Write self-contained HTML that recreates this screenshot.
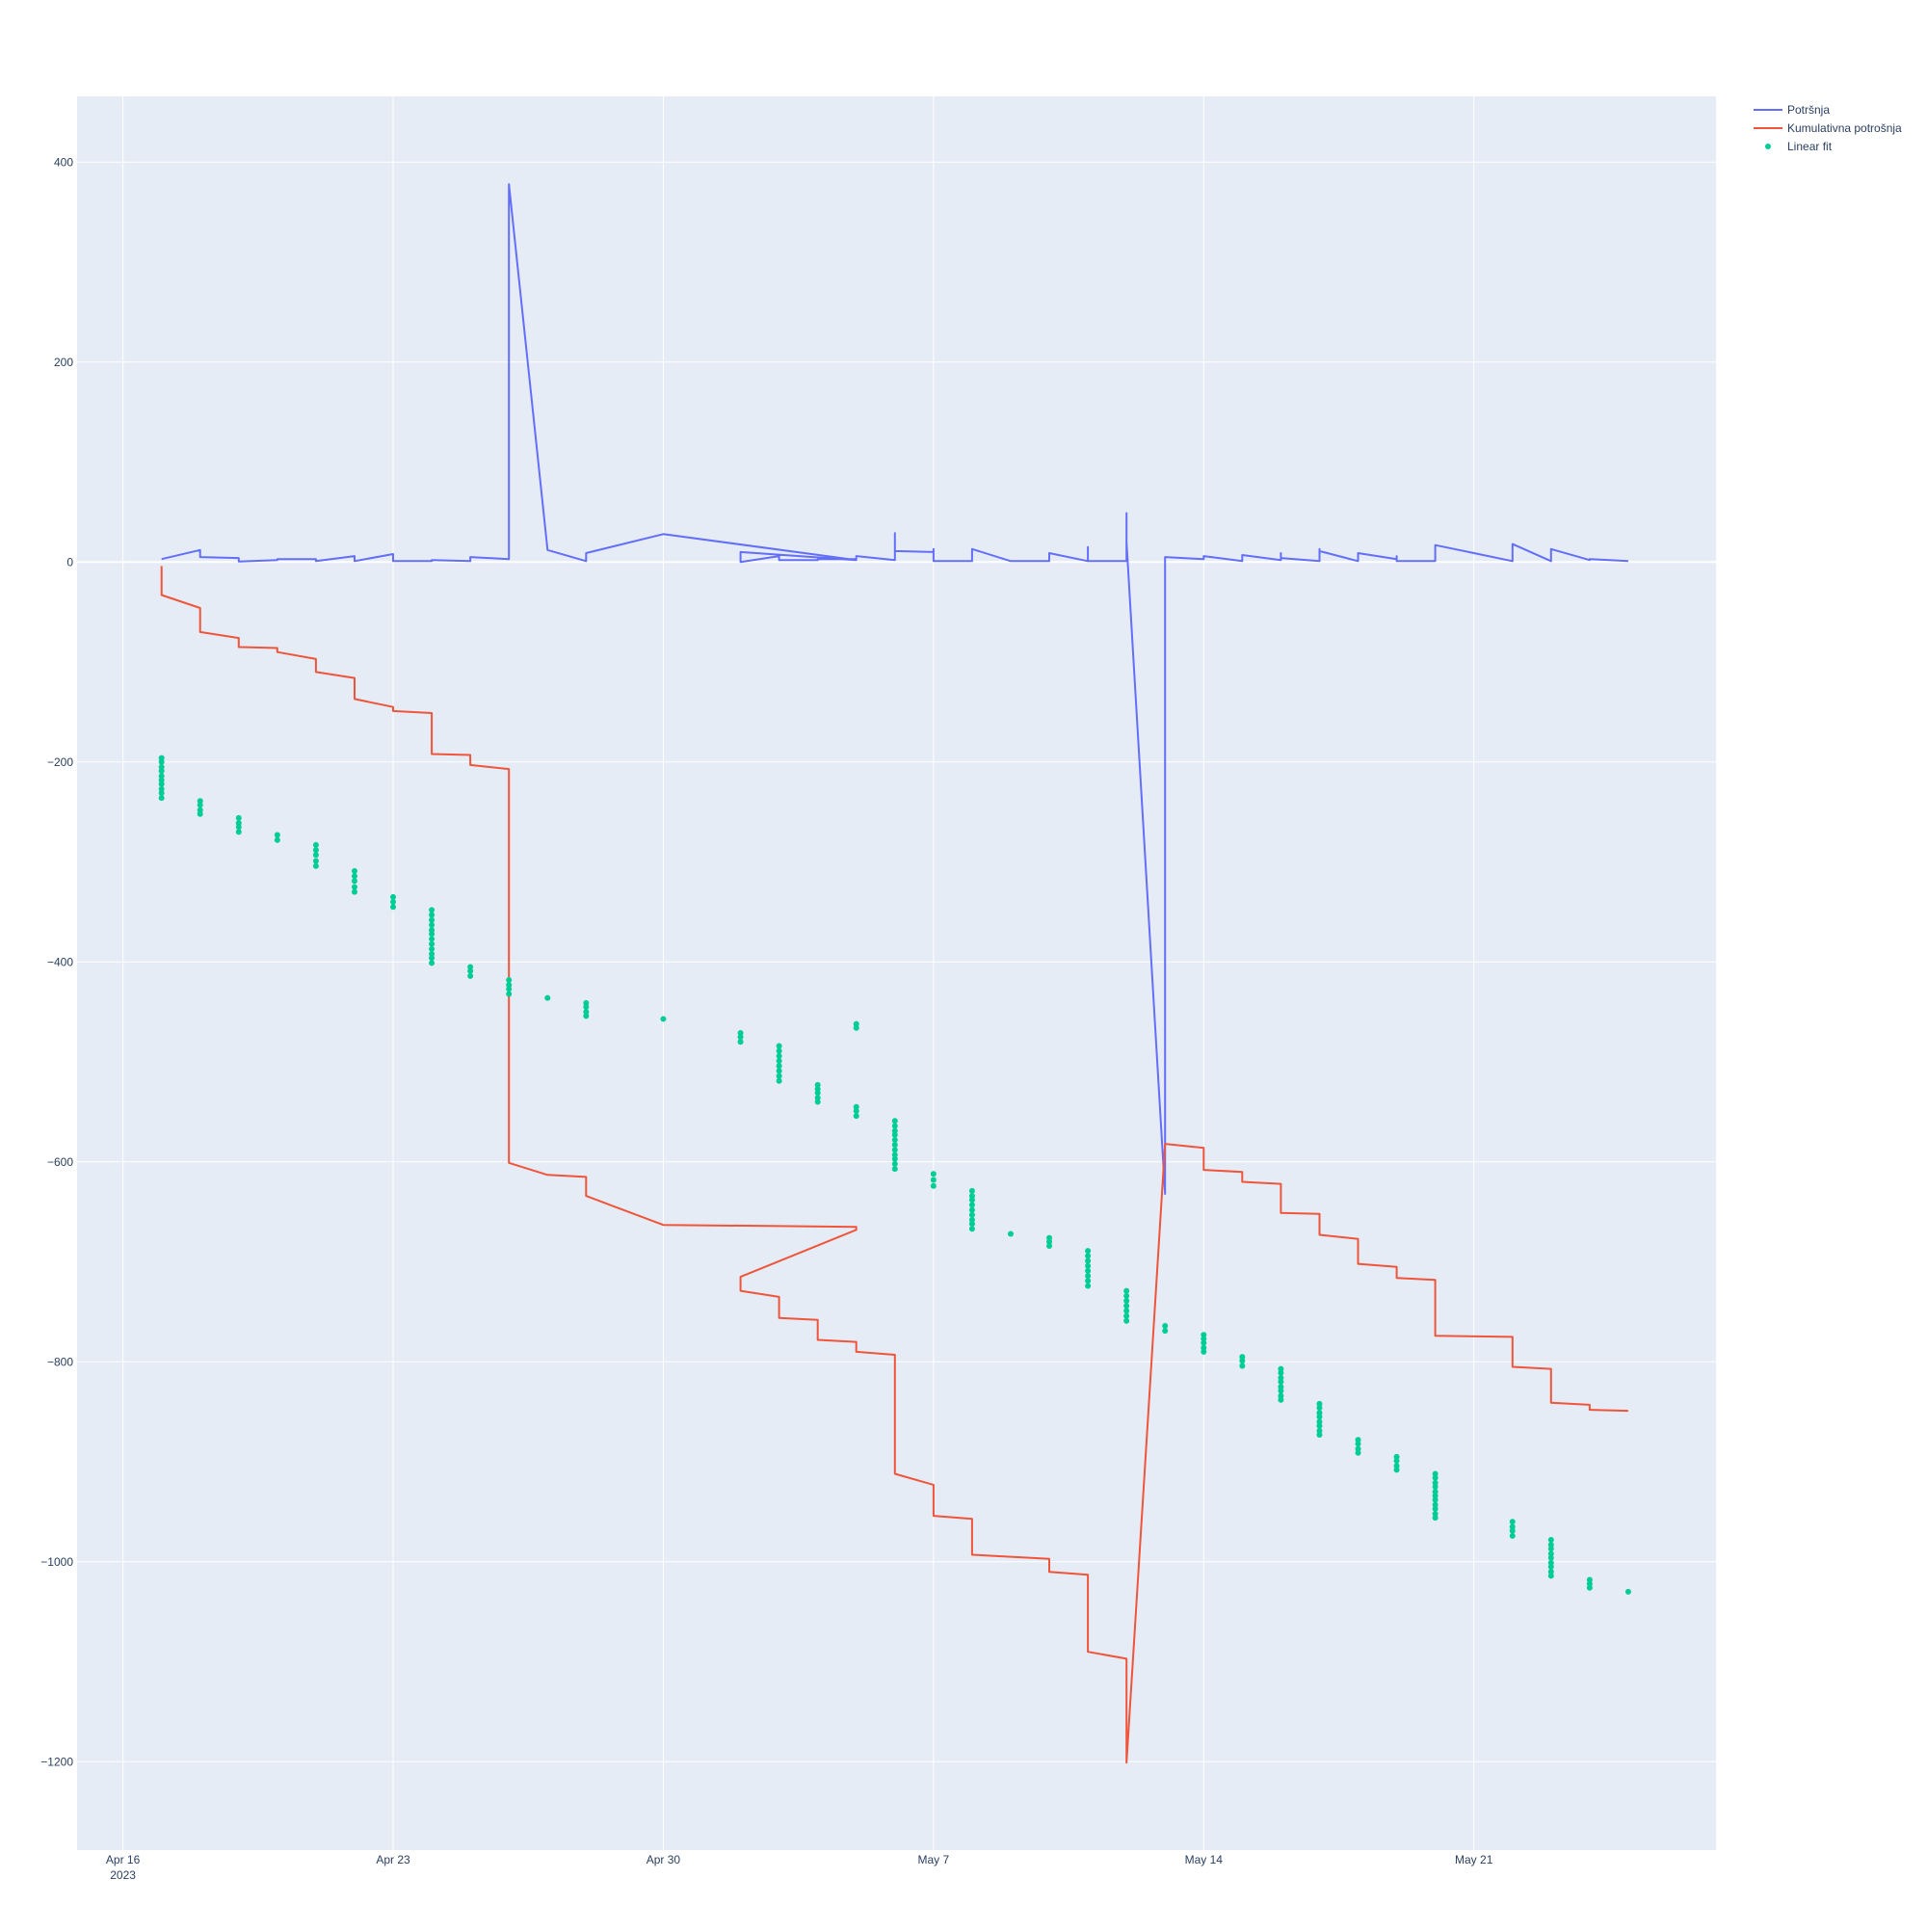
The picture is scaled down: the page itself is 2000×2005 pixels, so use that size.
<!DOCTYPE html>
<html><head><meta charset="utf-8"><style>
body{margin:0;background:#fff}
svg text{font-family:"Liberation Sans",sans-serif;fill:#2a3f5f;font-size:12px}
</style></head><body>
<svg id="chart" width="2000" height="2000" xmlns="http://www.w3.org/2000/svg">
<rect x="80" y="100" width="1701" height="1820" fill="#e5ecf6"/>
<g id="grid"></g><g id="series"></g><g id="axes"></g>
<g>
<line x1="1820" y1="114" x2="1850" y2="114" stroke="#636efa" stroke-width="2"/>
<text x="1855" y="118">Potršnja</text>
<line x1="1820" y1="133" x2="1850" y2="133" stroke="#EF553B" stroke-width="2"/>
<text x="1855" y="137">Kumulativna potrošnja</text>
<circle cx="1835" cy="152" r="3" fill="#00cc96"/>
<text x="1855" y="156">Linear fit</text>
</g>
</svg>
<script>
const xTickDays=[0,7,14,21,28,35];
const xTickLabels=["Apr 16","Apr 23","Apr 30","May 7","May 14","May 21"];
const yTicks=[400,200,0,-200,-400,-600,-800,-1000,-1200];
const blueDays=[1,2,2,3,3,4,4,5,5,6,6,7,7,8,8,9,9,10,10,11,12,12,14,19,16,16,17,17,18,18,19,19,20,20,20,21,21,21,22,22,23,24,24,25,25,25,26,26,26,27,27,28,28,29,29,30,30,30,31,31,31,32,32,33,33,33,34,34,36,36,37,37,38,38,39];
const blueVals=[3,12,5,4,0.5,2,3,3,1,6,1,8,1,1,2,1,5,3,378,12,1,9,28,2,10,0,6,2,2,3,3,6,2,29,11,10,13,1,1,13,1,1,9,1,15,1,1,49,20,-632,5,3,6,1,7,2,9,4,1,13,11,1,9,3,6,1,1,17,1,18,1,13,2,3,1];
const redDays=[1,1,2,2,3,3,4,4,5,5,6,6,7,7,8,8,9,9,10,10,11,12,12,14,19,19,16,16,17,17,18,18,19,19,20,20,21,21,22,22,24,24,25,25,26,26,27,28,28,29,29,30,30,31,31,32,32,33,33,34,34,36,36,37,37,38,38,39];
const redVals=[-4,-33,-46,-70,-76,-85,-86,-90,-97,-110,-116,-137,-145,-149,-151,-192,-193,-203,-207,-601,-613,-615,-634,-663,-665,-668,-715,-729,-735,-756,-758,-778,-780,-790,-793,-912,-923,-954,-957,-993,-997,-1010,-1013,-1090,-1097,-1201,-582,-586,-608,-610,-620,-622,-651,-652,-673,-677,-702,-705,-716,-718,-774,-775,-805,-807,-841,-843,-848,-849];
const greenDays=[1,2,3,4,5,6,7,8,9,10,11,12,14,16,17,18,19,19,20,21,22,23,24,25,26,27,28,29,30,31,32,33,34,36,37,38,39];
const greenVals=[
[-196,-200,-205,-209,-214,-218,-222,-227,-231,-236],[-239,-243,-248,-252],[-256,-261,-265,-270],[-273,-278],
[-283,-288,-293,-299,-304],[-309,-314,-319,-325,-330],[-335,-340,-345],
[-348,-353,-358,-363,-368,-372,-377,-382,-387,-392,-396,-401],[-405,-409,-414],[-418,-423,-427,-432],[-436],
[-441,-445,-450,-454],[-457],[-471,-475,-480],[-484,-489,-494,-499,-504,-509,-514,-519],[-523,-527,-531,-536,-540],
[-545,-549,-554],[-462,-466],[-559,-564,-569,-573,-578,-583,-588,-593,-597,-602,-607],[-612,-618,-624],
[-629,-634,-638,-643,-648,-653,-658,-662,-667],[-672],[-676,-680,-684],[-689,-694,-699,-704,-709,-714,-719,-724],
[-729,-734,-739,-744,-749,-754,-759],[-764,-769],[-773,-777,-781,-786,-790],[-795,-799,-804],
[-807,-811,-816,-820,-825,-829,-834,-838],[-842,-846,-851,-855,-860,-864,-869,-873],[-878,-882,-887,-891],
[-895,-899,-904,-908],[-912,-916,-921,-925,-930,-934,-938,-943,-947,-952,-956],[-960,-965,-969,-974],
[-978,-983,-987,-992,-996,-1001,-1005,-1010,-1014],[-1018,-1022,-1026],[-1030]];

const NS="http://www.w3.org/2000/svg";
function X(d){return 127.6+d*40.06;}
function Y(v){return 583.3-v*1.0375;}
function mk(tag,attrs,parent){const e=document.createElementNS(NS,tag);for(const k in attrs)e.setAttribute(k,attrs[k]);parent.appendChild(e);return e;}
const grid=document.getElementById('grid'),axes=document.getElementById('axes'),series=document.getElementById('series');
xTickDays.forEach((d,i)=>{
  const l=mk('line',{x1:X(d),x2:X(d),y1:100,y2:1920,stroke:'#fff','stroke-width':1},grid);
  
  
  const t=mk('text',{x:X(d),y:1934,'text-anchor':'middle'},axes);
  t.textContent=xTickLabels[i];
  
  
});
const yr=mk('text',{x:X(0),y:1950,'text-anchor':'middle'},axes);yr.textContent='2023';


yTicks.forEach(v=>{
  const l=mk('line',{x1:80,x2:1781,y1:Y(v),y2:Y(v),stroke:'#fff','stroke-width':v===0?2:1},grid);
  
  
  const t=mk('text',{x:76,y:Y(v)+4,'text-anchor':'end'},axes);
  t.textContent=v<0?'\u2212'+(-v):String(v);
  
  
});
function path(days,vals,color,name){
  const d=days.map((dd,i)=>(i?'L':'M')+X(dd).toFixed(1)+','+Y(vals[i]).toFixed(1)).join('');
  const p=mk('path',{d:d,fill:'none',stroke:color,'stroke-width':2,'stroke-linejoin':'round'},series);
  
  
}
path(blueDays,blueVals,'#636efa','potrosnja-line');
path(redDays,redVals,'#EF553B','kumulativna-line');
greenDays.forEach((d,i)=>{greenVals[i].forEach(v=>{
  const c=mk('circle',{cx:X(d),cy:Y(v),r:3,fill:'#00cc96'},series);
  
  
});});
</script>
</body></html>
